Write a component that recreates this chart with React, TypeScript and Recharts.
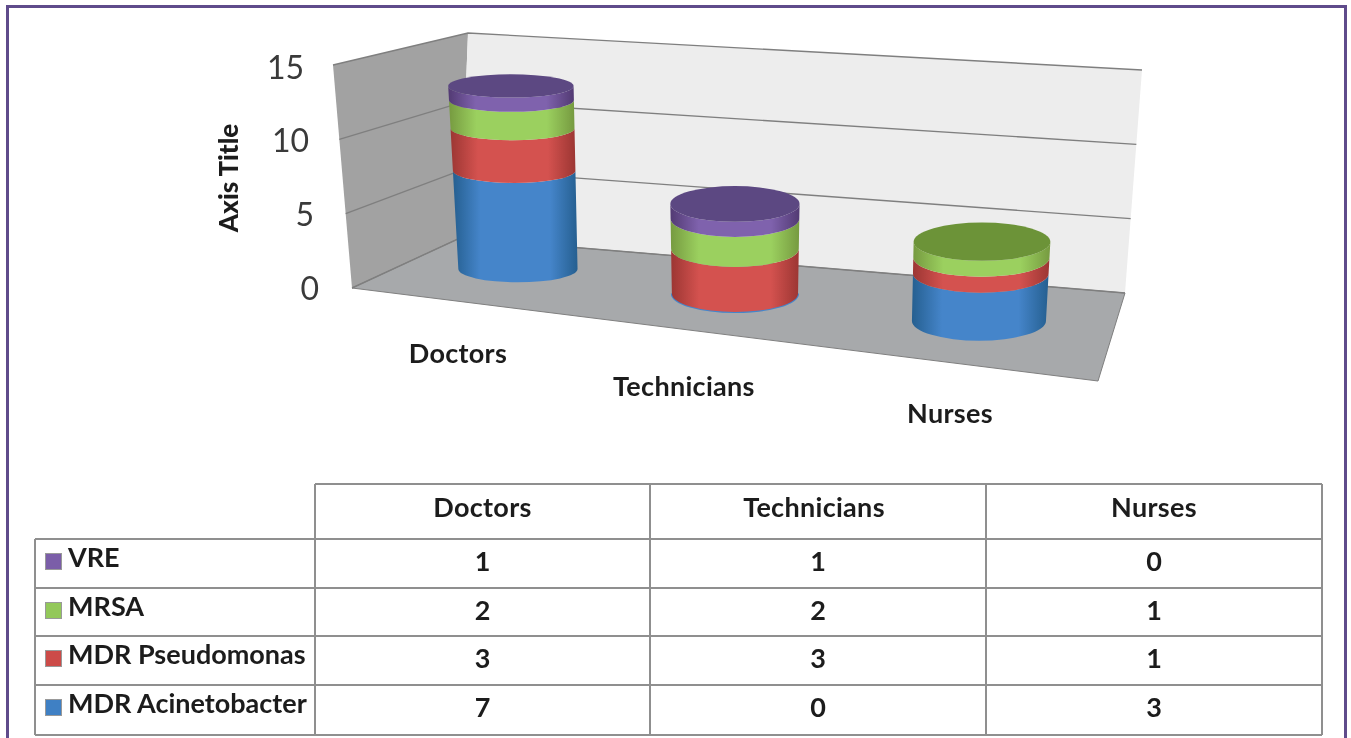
import React from "react";
import { BarChart, Bar, XAxis, YAxis, CartesianGrid } from "recharts";

const categories = ["Doctors", "Technicians", "Nurses"];
const vre = [1, 1, 0];
const mrsa = [2, 2, 1];
const pseudomonas = [3, 3, 1];
const acinetobacter = [7, 0, 3];
const yTicks = [0, 5, 10, 15];

const chartData = categories.map((name, i) => ({
  name,
  acinetobacter: acinetobacter[i],
  pseudomonas: pseudomonas[i],
  mrsa: mrsa[i],
  vre: vre[i],
}));

// bottom of the stack first
const stackOrder = ["acinetobacter", "pseudomonas", "mrsa", "vre"];

const looks: any = {
  vre: { label: "VRE", edge: "#523a73", mid: "#7f62ad", lid: "#5c4882", key: "#7b5ea8" },
  mrsa: { label: "MRSA", edge: "#769a40", mid: "#9bd05f", lid: "#6c9338", key: "#93c85a" },
  pseudomonas: { label: "MDR Pseudomonas", edge: "#9c3633", mid: "#d4524f", lid: "#a33c3a", key: "#cc4b48" },
  acinetobacter: { label: "MDR Acinetobacter", edge: "#255f90", mid: "#4585ca", lid: "#2f6ba0", key: "#3f80c4" },
};

const W = 1351;
const H = 738;
const FONT = "Lato, 'Open Sans', sans-serif";
const plot = { left: 320, right: 1100, top: 66, bottom: 287 };
const maxValue = 15;

// fake perspective: the flat recharts plot gets reprojected on the floor
const depth = (u: number) => 1 - 0.1615 * u;
const floorX = (u: number) => (514.8 * u + 418.2) / depth(u);
const floorY = (u: number) => (24 * u + 257.7) / depth(u);
const toU = (x: number) => (x - plot.left) / (plot.right - plot.left);
const toValue = (y: number) => ((plot.bottom - y) / (plot.bottom - plot.top)) * maxValue;

const ring = (u: number, value: number, barW: number) => {
  const bx = floorX(u);
  const cx = bx + (bx - 735) * 0.0025 * value;
  const cy = floorY(u) - (13.7 / depth(u)) * value;
  const rx = ((barW / 2) / depth(u)) * (1 + 0.004 * value);
  const ry = rx * (Math.min(0.295, 0.18 + 0.27 * u) - 0.003 * value);
  return { cx, cy, rx, ry };
};

const CylinderPiece = (props: any) => {
  const { x, y, width, height, index, seriesKey } = props;
  const u = toU(x + width / 2);
  const look = looks[seriesKey];
  const lo = ring(u, toValue(y + height), width);
  const hi = ring(u, toValue(y), width);
  const fill = `url(#side-${seriesKey})`;

  if (height <= 0) {
    // empty series still leaves a hairline under the stack
    if (stackOrder.indexOf(seriesKey) > 0) return null;
    return (
      <path
        d={`M${lo.cx - lo.rx},${lo.cy} A${lo.rx},${lo.ry} 0 0 0 ${lo.cx + lo.rx},${lo.cy}`}
        fill="none"
        stroke={look.mid}
        strokeWidth={2}
      />
    );
  }

  const row: any = chartData[index];
  const above = stackOrder.slice(stackOrder.indexOf(seriesKey) + 1);
  const isTop = above.every((k) => row[k] === 0);

  return (
    <g>
      <path
        d={`M${hi.cx - hi.rx},${hi.cy} L${lo.cx - lo.rx},${lo.cy}
            A${lo.rx},${lo.ry} 0 0 0 ${lo.cx + lo.rx},${lo.cy}
            L${hi.cx + hi.rx},${hi.cy}
            A${hi.rx},${hi.ry} 0 0 1 ${hi.cx - hi.rx},${hi.cy} Z`}
        fill={fill}
      />
      {isTop && <ellipse cx={hi.cx} cy={hi.cy} rx={hi.rx} ry={hi.ry} fill={look.lid} />}
    </g>
  );
};

// walls, floor: corners at value 0 and value 15
const frontEdge = { x0: 352, y0: 288, x1: 333, y1: 65 };
const cornerEdge = { x0: 460, y0: 238, x1: 468, y1: 33 };
const rightEdge = { x0: 1125, y0: 293, x1: 1142, y1: 70 };
const floorFront = { x: 1098, y: 381 };

const along = (e: any, value: number) => {
  const t = value / maxValue;
  return `${e.x0 + (e.x1 - e.x0) * t},${e.y0 + (e.y1 - e.y0) * t}`;
};

const WallLine = (props: any) => {
  const value = toValue(props.y1);
  return (
    <polyline
      key={props.key}
      points={`${along(frontEdge, value)} ${along(cornerEdge, value)} ${along(rightEdge, value)}`}
      fill="none"
      stroke="#7f7f7f"
      strokeWidth={1.4}
    />
  );
};

const Walls = () => (
  <svg width={W} height={H} style={{ position: "absolute", left: 0, top: 0 }}>
    <polygon
      points={`${along(frontEdge, 0)} ${along(frontEdge, 15)} ${along(cornerEdge, 15)} ${along(cornerEdge, 0)}`}
      fill="#a2a2a2"
    />
    <polygon
      points={`${along(cornerEdge, 0)} ${along(cornerEdge, 15)} ${along(rightEdge, 15)} ${along(rightEdge, 0)}`}
      fill="#ededed"
    />
    <polygon
      points={`${along(frontEdge, 0)} ${along(cornerEdge, 0)} ${along(rightEdge, 0)} ${floorFront.x},${floorFront.y}`}
      fill="#a7a9ab"
      stroke="#7f7f7f"
      strokeWidth={1}
    />
  </svg>
);

const YTick = (props: any) => {
  const value = props.payload.value;
  return (
    <text
      x={props.x + (15 - value) - 8}
      y={props.y}
      textAnchor="end"
      dominantBaseline="central"
      fontFamily={FONT}
      fontSize={32}
      fill="#3a3a3a"
    >
      {value}
    </text>
  );
};

// category labels sit in front of the floor, not under the cylinders
const labelShift = [
  [-60, 84],
  [-51, 92],
  [-29, 92],
];

const XTick = (props: any) => {
  const u = toU(props.x);
  const shift = labelShift[props.index];
  return (
    <text
      x={floorX(u) + shift[0]}
      y={floorY(u) + shift[1]}
      textAnchor="middle"
      dominantBaseline="central"
      fontFamily={FONT}
      fontWeight={700}
      fontSize={27}
      letterSpacing={0.3}
      fill="#1c1c1c"
    >
      {props.payload.value}
    </text>
  );
};

const AxisTitle = () => (
  <text
    transform="translate(228,178) rotate(-90)"
    textAnchor="middle"
    dominantBaseline="central"
    fontFamily={FONT}
    fontWeight={900}
    fontSize={26}
    fill="#1c1c1c"
  >
    Axis Title
  </text>
);

const lineColor = "#8f8f8f";
const colX = [35, 315, 650, 986, 1322];
const rowY = [484, 539, 588, 636, 685, 735];

const DataTable = () => {
  const rows = [...stackOrder].reverse();
  const cellText: React.CSSProperties = {
    position: "absolute",
    fontFamily: FONT,
    fontWeight: 700,
    fontSize: 27,
    color: "#1c1c1c",
    textAlign: "center",
    lineHeight: "30px",
    whiteSpace: "nowrap",
  };
  const cols = categories.map((_, c) => colX[c + 1]);
  return (
    <div style={{ position: "absolute", left: 0, top: 0, width: W, height: H }}>
      <svg width={W} height={H} style={{ position: "absolute", left: 0, top: 0 }}>
        <g stroke={lineColor} strokeWidth={2}>
          <line x1={colX[1]} y1={rowY[0]} x2={colX[4]} y2={rowY[0]} />
          {rowY.slice(1).map((y) => (
            <line key={y} x1={colX[0]} y1={y} x2={colX[4]} y2={y} />
          ))}
          <line x1={colX[0]} y1={rowY[1]} x2={colX[0]} y2={rowY[5]} />
          {colX.slice(1).map((x) => (
            <line key={x} x1={x} y1={rowY[0]} x2={x} y2={rowY[5]} />
          ))}
        </g>
      </svg>
      {categories.map((name, c) => (
        <div
          key={name}
          style={{
            ...cellText,
            left: cols[c],
            width: colX[c + 2] - cols[c],
            top: 492,
            letterSpacing: 0.3,
            transform: c === 1 ? "translateX(-4px)" : undefined,
          }}
        >
          {name}
        </div>
      ))}
      {rows.map((key, r) => (
        <React.Fragment key={key}>
          <div
            style={{
              position: "absolute",
              left: 45,
              top: rowY[r + 1] + 14,
              width: 15,
              height: 15,
              background: looks[key].key,
              border: "1px solid #999",
            }}
          />
          <div style={{ ...cellText, left: 68, top: rowY[r + 1] + 3, textAlign: "left" }}>{looks[key].label}</div>
          {chartData.map((row: any, c) => (
            <div
              key={c}
              style={{ ...cellText, left: cols[c], width: colX[c + 2] - cols[c], top: rowY[r + 1] + 7 }}
            >
              {row[key]}
            </div>
          ))}
        </React.Fragment>
      ))}
    </div>
  );
};

export default function App() {
  return (
    <div
      style={{
        position: "absolute",
        left: 0,
        top: 0,
        width: W,
        height: H,
        overflow: "hidden",
        background: "#fff",
        filter: "blur(0.6px)",
      }}
    >
      <div
        style={{
          position: "absolute",
          left: 6,
          top: 5,
          width: 1335,
          height: 800,
          border: "3px solid #5f4b8b",
        }}
      />
      <Walls />
      <div style={{ position: "absolute", left: 0, top: 0 }}>
        <BarChart
          width={W}
          height={H}
          data={chartData}
          barSize={116}
          margin={{ top: plot.top, bottom: H - plot.bottom - 30, left: plot.left - 60, right: W - plot.right }}
        >
          <defs>
            {stackOrder.map((k) => (
              <linearGradient key={k} id={`side-${k}`} x1="0" y1="0" x2="1" y2="0">
                <stop offset="0%" stopColor={looks[k].edge} />
                <stop offset="22%" stopColor={looks[k].mid} />
                <stop offset="78%" stopColor={looks[k].mid} />
                <stop offset="100%" stopColor={looks[k].edge} />
              </linearGradient>
            ))}
          </defs>
          <CartesianGrid vertical={false} horizontal={WallLine as any} syncWithTicks />
          <XAxis dataKey="name" axisLine={false} tickLine={false} height={30} tick={XTick as any} interval={0} />
          <YAxis
            domain={[0, maxValue]}
            ticks={yTicks}
            width={60}
            axisLine={false}
            tickLine={false}
            tick={YTick as any}
            label={{ content: AxisTitle as any }}
          />
          {stackOrder.map((k) => (
            <Bar
              key={k}
              dataKey={k}
              stackId="all"
              isAnimationActive={false}
              shape={(p: any) => <CylinderPiece {...p} seriesKey={k} />}
            />
          ))}
        </BarChart>
      </div>
      <DataTable />
    </div>
  );
}
